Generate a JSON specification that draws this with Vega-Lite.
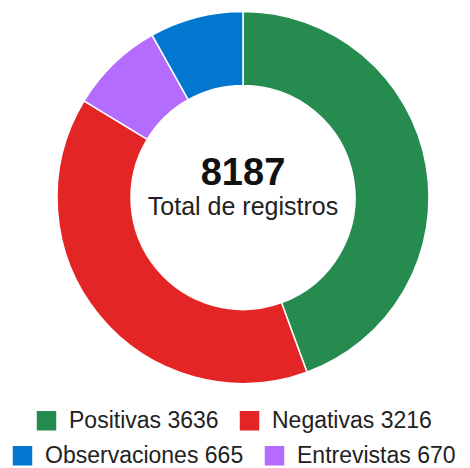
{
  "$schema": "https://vega.github.io/schema/vega-lite/v6.json",
  "width": 454,
  "height": 395,
  "padding": {"left": 6, "top": 0, "right": 10, "bottom": 0},
  "autosize": {"type": "pad"},
  "background": "white",
  "config": {
    "view": {"stroke": null},
    "font": "Liberation Sans",
    "legend": {
      "layout": {"bottom": {"anchor": "middle", "direction": "vertical", "center": true, "margin": 11}}
    }
  },
  "datasets": {
    "slices": [
      {"label": "Positivas 3636", "value": 3636, "order": 1, "row": 1},
      {"label": "Negativas 3216", "value": 3216, "order": 2, "row": 1},
      {"label": "Entrevistas 670", "value": 670, "order": 3, "row": 2},
      {"label": "Observaciones 665", "value": 665, "order": 4, "row": 2}
    ]
  },
  "layer": [
    {
      "data": {"name": "slices"},
      "transform": [
        {"window": [{"op": "sum", "field": "value", "as": "v1"}], "sort": [{"field": "order", "order": "ascending"}], "frame": [null, 0]},
        {"calculate": "datum.v1 - datum.value", "as": "v0"},
        {"filter": "datum.row == 1"}
      ],
      "mark": {"type": "arc", "innerRadius": 112, "outerRadius": 186, "stroke": "white", "strokeWidth": 1.5, "xOffset": 10},
      "encoding": {
        "theta": {"field": "v0", "type": "quantitative", "scale": {"domain": [0, 8187], "range": [0, 6.283185307179586], "nice": false, "zero": true}},
        "theta2": {"field": "v1"},
        "color": {
          "field": "label", "type": "nominal",
          "scale": {"domain": ["Positivas 3636", "Negativas 3216"], "range": ["#268b4f", "#e32526"]},
          "legend": {"title": null, "orient": "bottom", "direction": "horizontal", "symbolType": "square", "symbolSize": 380, "symbolStrokeWidth": 0, "symbolOpacity": 1, "labelFontSize": 23, "labelColor": "#222222", "labelFont": "Liberation Sans", "columnPadding": 19, "labelOffset": 11, "padding": 0, "offset": 14, "labelLimit": 400}
        }
      }
    },
    {
      "data": {"name": "slices"},
      "transform": [
        {"window": [{"op": "sum", "field": "value", "as": "v1"}], "sort": [{"field": "order", "order": "ascending"}], "frame": [null, 0]},
        {"calculate": "datum.v1 - datum.value", "as": "v0"},
        {"filter": "datum.row == 2"}
      ],
      "mark": {"type": "arc", "innerRadius": 112, "outerRadius": 186, "stroke": "white", "strokeWidth": 1.5, "xOffset": 10},
      "encoding": {
        "theta": {"field": "v0", "type": "quantitative"},
        "theta2": {"field": "v1"},
        "fill": {
          "field": "label", "type": "nominal",
          "scale": {"domain": ["Observaciones 665", "Entrevistas 670"], "range": ["#0277d0", "#b46cff"]},
          "legend": {"title": null, "orient": "bottom", "direction": "horizontal", "symbolType": "square", "symbolSize": 380, "symbolStrokeWidth": 0, "symbolOpacity": 1, "labelFontSize": 23, "labelColor": "#222222", "labelFont": "Liberation Sans", "columnPadding": 19, "labelOffset": 11, "padding": 0, "offset": 14, "labelLimit": 400}
        }
      }
    },
    {
      "data": {"values": [{"t": "8187"}]},
      "mark": {"type": "text", "fontSize": 38, "fontWeight": "bold", "font": "Liberation Sans", "baseline": "alphabetic", "align": "center", "dy": -12.5, "xOffset": 10, "color": "#111111"},
      "encoding": {"text": {"field": "t"}}
    },
    {
      "data": {"values": [{"t": "Total de registros"}]},
      "mark": {"type": "text", "fontSize": 25, "font": "Liberation Sans", "baseline": "alphabetic", "align": "center", "dy": 17, "xOffset": 10, "color": "#222222"},
      "encoding": {"text": {"field": "t"}}
    }
  ]
}
